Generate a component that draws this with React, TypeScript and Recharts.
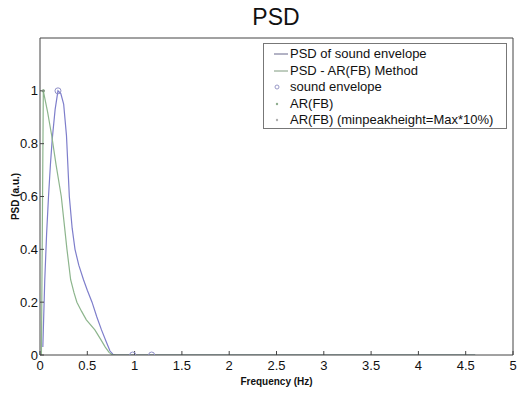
import React from 'react';
import { ComposedChart, Line, Scatter, XAxis, YAxis, Legend, Label } from 'recharts';

// PSD of sound envelope (blue)
const envFreq = [0.03, 0.05, 0.07, 0.09, 0.11, 0.13, 0.16, 0.19, 0.22, 0.25, 0.28, 0.31, 0.34, 0.37, 0.41, 0.46, 0.5, 0.55, 0.6, 0.65, 0.7, 0.74, 0.77, 0.8, 1.0, 1.5, 2.0, 3.0, 4.0, 4.6];
const envPsd = [0.03, 0.28, 0.46, 0.6, 0.72, 0.82, 0.93, 1.0, 0.99, 0.95, 0.83, 0.6, 0.48, 0.4, 0.34, 0.285, 0.245, 0.2, 0.145, 0.095, 0.05, 0.015, 0.003, 0, 0, 0, 0, 0, 0, 0];

// PSD - AR(FB) Method (green)
const arFreq = [0.015, 0.035, 0.08, 0.124, 0.17, 0.225, 0.255, 0.285, 0.324, 0.36, 0.39, 0.44, 0.49, 0.58, 0.64, 0.69, 0.73, 0.76, 0.8, 1.0, 1.5, 2.0, 3.0, 4.0, 4.6];
const arPsd = [0, 1.0, 0.92, 0.83, 0.72, 0.6, 0.5, 0.4, 0.285, 0.235, 0.2, 0.165, 0.133, 0.095, 0.06, 0.03, 0.01, 0.002, 0, 0, 0, 0, 0, 0, 0];

// markers
const envPeakFreq = [0.19, 0.98, 1.18];
const envPeakPsd = [1.0, 0, 0];
const arPeakFreq = [0.035];
const arPeakPsd = [1.0];
const arMinPeakFreq = [0.035];
const arMinPeakPsd = [1.0];

const xTicks = [0, 0.5, 1, 1.5, 2, 2.5, 3, 3.5, 4, 4.5, 5];
const yTicks = [0, 0.2, 0.4, 0.6, 0.8, 1];

const zip = (f: number[], v: number[]) => f.map((x, i) => ({ f: x, v: v[i] }));

const envData = zip(envFreq, envPsd);
const arData = zip(arFreq, arPsd);
const envPeaks = zip(envPeakFreq, envPeakPsd);
const arPeaks = zip(arPeakFreq, arPeakPsd);
const arMinPeaks = zip(arMinPeakFreq, arMinPeakPsd);

const BLUE = '#7e7ecb';
const GREEN = '#8db58d';
const AXIS = '#444';
const FONT = '"Liberation Sans", Arial, sans-serif';

const legendItems = [
  { label: 'PSD of sound envelope', kind: 'line', color: '#66668a' },
  { label: 'PSD - AR(FB) Method', kind: 'line', color: '#7f9a7f' },
  { label: 'sound envelope', kind: 'circle', color: '#9a9ac8' },
  { label: 'AR(FB)', kind: 'dot', color: '#8fae8f' },
  { label: 'AR(FB) (minpeakheight=Max*10%)', kind: 'dot', color: '#b0b0b0' },
];

const LegendBox = () => (
  <div
    style={{
      border: '1px solid #777',
      background: '#fff',
      width: 244,
      height: 86,
      boxSizing: 'border-box',
      padding: '2px 0 0 0',
      fontFamily: FONT,
      fontSize: 13,
      color: '#111',
    }}
  >
    {legendItems.map((it) => (
      <div key={it.label} style={{ display: 'flex', alignItems: 'center', height: 16.5, lineHeight: '16.5px' }}>
        <svg width={26} height={10} style={{ flex: 'none' }}>
          {it.kind === 'line' && <line x1={10} y1={5} x2={24} y2={5} stroke={it.color} strokeWidth={1} />}
          {it.kind === 'circle' && <circle cx={13} cy={5} r={2} fill="none" stroke={it.color} strokeWidth={1} />}
          {it.kind === 'dot' && <circle cx={13} cy={5} r={1.2} fill={it.color} />}
        </svg>
        <span style={{ whiteSpace: 'nowrap' }}>{it.label}</span>
      </div>
    ))}
  </div>
);

const tickStyle = { fontFamily: FONT, fontSize: 13, fill: '#111' };

export default function App() {
  return (
    <div style={{ position: 'absolute', left: 0, top: 0, width: 517, height: 394, background: '#fff' }}>
      <div
        style={{
          position: 'absolute',
          left: 0,
          top: 6,
          width: 552,
          textAlign: 'center',
          fontFamily: FONT,
          fontSize: 23,
          lineHeight: '23px',
          color: '#111',
        }}
      >
        PSD
      </div>
      <ComposedChart width={517} height={394} margin={{ top: 37, right: 3, bottom: 9, left: 0 }}>
        <XAxis
          xAxisId="bottom"
          dataKey="f"
          type="number"
          domain={[0, 5]}
          ticks={xTicks}
          allowDataOverflow
          height={30}
          tickSize={-4}
          tickMargin={10}
          tick={tickStyle}
          stroke={AXIS}
          tickLine={{ stroke: AXIS }}
          axisLine={{ stroke: AXIS }}
        >
          <Label
            value="Frequency (Hz)"
            position="insideBottom"
            offset={0}
            style={{ fontFamily: FONT, fontSize: 10, fontWeight: 'bold', fill: '#111' }}
          />
        </XAxis>
        <XAxis
          xAxisId="top"
          orientation="top"
          dataKey="f"
          type="number"
          domain={[0, 5]}
          ticks={xTicks}
          allowDataOverflow
          height={1}
          tickSize={-4}
          tick={false}
          stroke={AXIS}
          tickLine={{ stroke: AXIS }}
          axisLine={{ stroke: AXIS }}
        />
        <YAxis
          yAxisId="left"
          type="number"
          domain={[0, 1.2]}
          ticks={yTicks}
          allowDataOverflow
          width={40}
          tickSize={-4}
          tickMargin={6}
          tick={tickStyle}
          stroke={AXIS}
          tickLine={{ stroke: AXIS }}
          axisLine={{ stroke: AXIS }}
        >
          <Label
            content={(props: any) => {
              const vb = props.viewBox || { y: 38, height: 317 };
              const cx = 15;
              const cy = vb.y + vb.height / 2;
              return (
                <text
                  x={cx}
                  y={cy}
                  transform={`rotate(-90 ${cx} ${cy})`}
                  textAnchor="middle"
                  dominantBaseline="central"
                  style={{ fontFamily: FONT, fontSize: 10, fontWeight: 'bold', fill: '#111' }}
                >
                  PSD (a.u.)
                </text>
              );
            }}
          />
        </YAxis>
        <YAxis
          yAxisId="right"
          orientation="right"
          type="number"
          domain={[0, 1.2]}
          ticks={yTicks}
          allowDataOverflow
          width={1}
          tickSize={-4}
          tick={false}
          stroke={AXIS}
          tickLine={{ stroke: AXIS }}
          axisLine={{ stroke: AXIS }}
        />
        {/* invisible series so the box axes (top/right) are bound and drawn */}
        <Line
          xAxisId="top"
          yAxisId="right"
          data={envData}
          dataKey="v"
          stroke="none"
          dot={false}
          activeDot={false}
          isAnimationActive={false}
          legendType="none"
        />
        <Line
          xAxisId="bottom"
          yAxisId="left"
          data={envData}
          dataKey="v"
          type="linear"
          stroke={BLUE}
          strokeWidth={1.2}
          dot={false}
          isAnimationActive={false}
          name="PSD of sound envelope"
        />
        <Line
          xAxisId="bottom"
          yAxisId="left"
          data={arData}
          dataKey="v"
          type="linear"
          stroke={GREEN}
          strokeWidth={1.2}
          dot={false}
          isAnimationActive={false}
          name="PSD - AR(FB) Method"
        />
        <Scatter
          xAxisId="bottom"
          yAxisId="left"
          data={envPeaks}
          dataKey="v"
          isAnimationActive={false}
          name="sound envelope"
          shape={(p: any) => <circle cx={p.cx} cy={p.cy} r={3} fill="none" stroke="#9090c8" strokeWidth={1} />}
        />
        <Scatter
          xAxisId="bottom"
          yAxisId="left"
          data={arPeaks}
          dataKey="v"
          isAnimationActive={false}
          name="AR(FB)"
          shape={(p: any) => <circle cx={p.cx} cy={p.cy} r={1.6} fill="#6f9a6f" />}
        />
        <Scatter
          xAxisId="bottom"
          yAxisId="left"
          data={arMinPeaks}
          dataKey="v"
          isAnimationActive={false}
          name="AR(FB) (minpeakheight=Max*10%)"
          shape={(p: any) => <circle cx={p.cx} cy={p.cy} r={1} fill="#888" />}
        />
        <Legend
          layout="vertical"
          align="center"
          verticalAlign="middle"
          content={() => <LegendBox />}
          wrapperStyle={{ position: 'absolute', left: 263, top: 43, width: 244, height: 86 }}
        />
      </ComposedChart>
    </div>
  );
}
